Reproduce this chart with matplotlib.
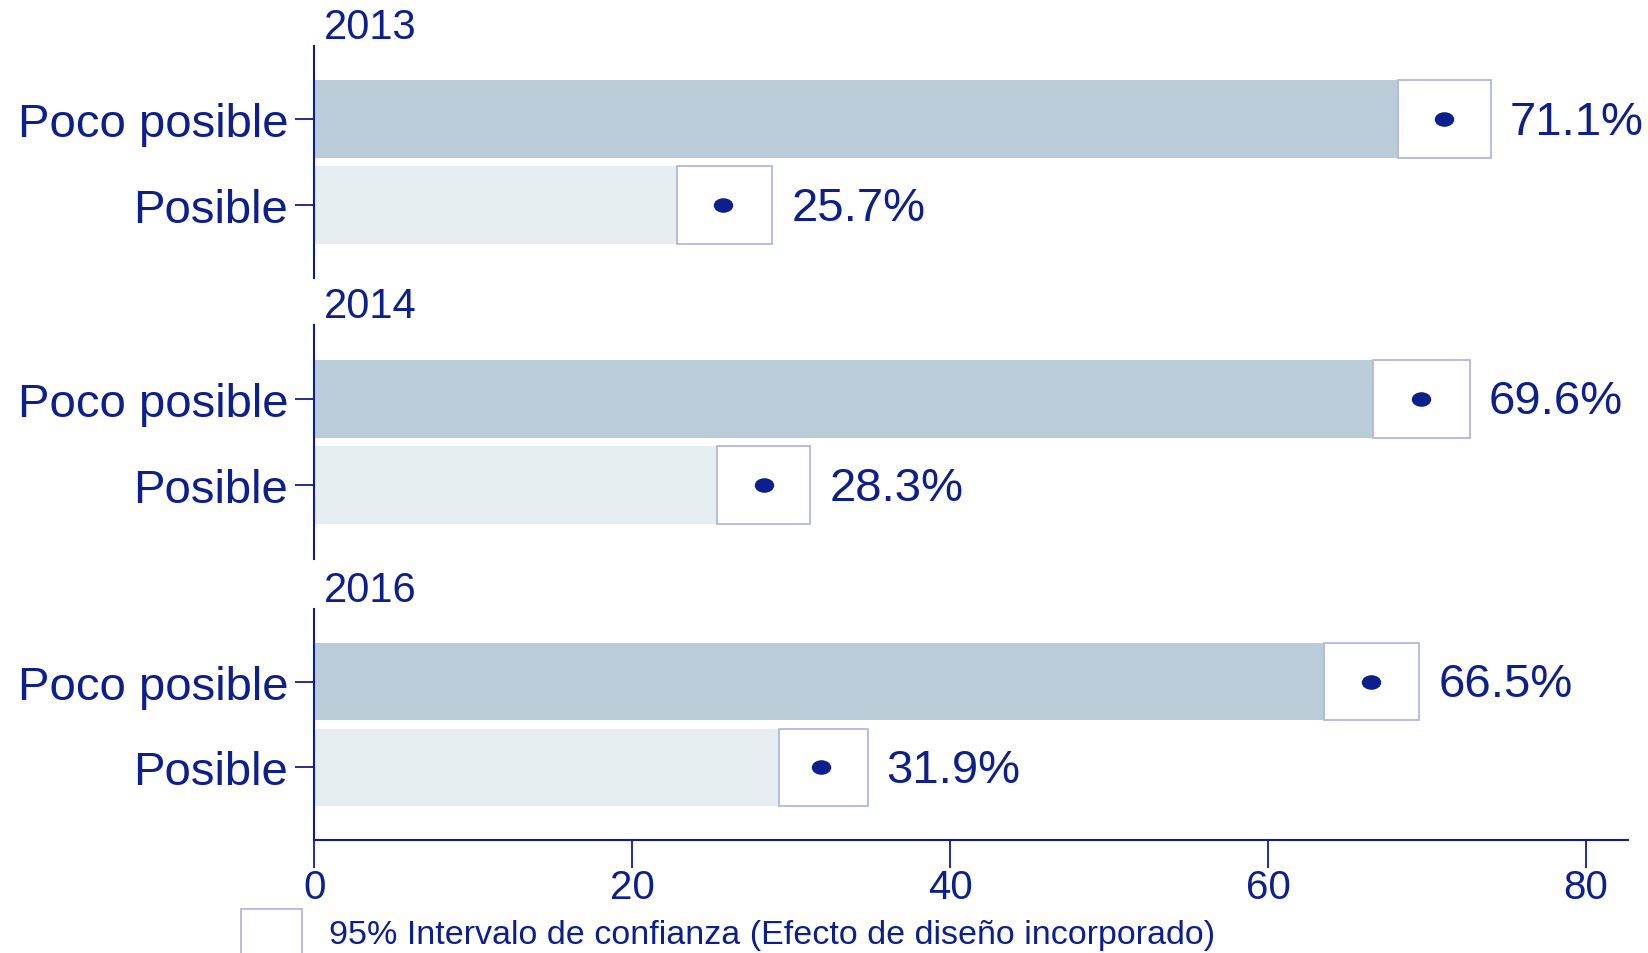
import matplotlib
matplotlib.use("Agg")
import matplotlib.pyplot as plt
from matplotlib.patches import Rectangle
from matplotlib.path import Path
from matplotlib.transforms import Affine2D

plt.rcParams['font.family'] = ['Liberation Sans', 'DejaVu Sans']

years = ["2013", "2014", "2016"]
categories = ["Poco posible", "Posible"]
estimates = [[71.1, 25.7], [69.6, 28.3], [66.5, 31.9]]
ci_low = [[68.2, 22.8], [66.6, 25.3], [63.5, 29.2]]
ci_high = [[74.0, 28.8], [72.7, 31.2], [69.5, 34.8]]
value_labels = [["71.1%", "25.7%"], ["69.6%", "28.3%"], ["66.5%", "31.9%"]]
xticks = [0, 20, 40, 60, 80]
legend_text = "95% Intervalo de confianza (Efecto de diseño incorporado)"

NAVY = "#0d1f8c"
BAR_COLORS = ["#b9ccd7", "#e5edf0"]
BOX_EDGE = "#b3b7de"

ellipse_marker = Path.unit_circle().transformed(Affine2D().scale(1.0, 0.75))

fig = plt.figure(figsize=(16.49, 9.54), dpi=100)
left, right = 0.1907, 0.9873
panel_bounds = [(0.7075, 0.9507), (0.413, 0.658), (0.1184, 0.3606)]

ypos = [1, 0]
for i, (b, t) in enumerate(panel_bounds):
    ax = fig.add_axes([left, b, right - left, t - b])
    ax.set_xlim(0, 82.65)
    ax.set_ylim(-0.85, 1.85)
    for j, y in enumerate(ypos):
        ax.barh(y, ci_low[i][j], height=0.9, color=BAR_COLORS[j], zorder=1)
        ax.add_patch(Rectangle((ci_low[i][j], y - 0.45), ci_high[i][j] - ci_low[i][j], 0.9,
                               facecolor="white", edgecolor=BOX_EDGE, linewidth=1.3, zorder=2))
        ax.plot(estimates[i][j], y, marker=ellipse_marker, markersize=14, color=NAVY,
                markeredgewidth=0, zorder=3)
        ax.text(ci_high[i][j] + 1.2, y - 0.03, value_labels[i][j], color=NAVY, fontsize=34,
                va='center', ha='left')
    ax.set_yticks(ypos)
    ax.set_yticklabels(categories, fontsize=34, color=NAVY)
    ax.tick_params(axis='y', length=14, width=1.3, color=NAVY, pad=5)
    for s in ["top", "right"]:
        ax.spines[s].set_visible(False)
    ax.spines["left"].set_color(NAVY)
    ax.spines["left"].set_linewidth(1.5)
    if i < 2:
        ax.spines["bottom"].set_visible(False)
        ax.set_xticks([])
    else:
        ax.spines["bottom"].set_color(NAVY)
        ax.spines["bottom"].set_linewidth(1.5)
        ax.set_xticks(xticks)
        ax.set_xticklabels([str(v) for v in xticks], fontsize=29, color=NAVY)
        ax.tick_params(axis='x', length=20, width=1.3, color=NAVY, pad=0)
    ax.text(0.007, 0.995, years[i], transform=ax.transAxes, fontsize=30,
            color=NAVY, ha='left', va='bottom')

fig.patches.append(Rectangle((0.146, -0.02), 0.037, 0.066, transform=fig.transFigure,
                             facecolor="white", edgecolor=BOX_EDGE, linewidth=1.3))
fig.text(0.1995, 0.019, legend_text, fontsize=24.5, color=NAVY, ha='left', va='center')

fig.savefig("out.png", dpi=100)
